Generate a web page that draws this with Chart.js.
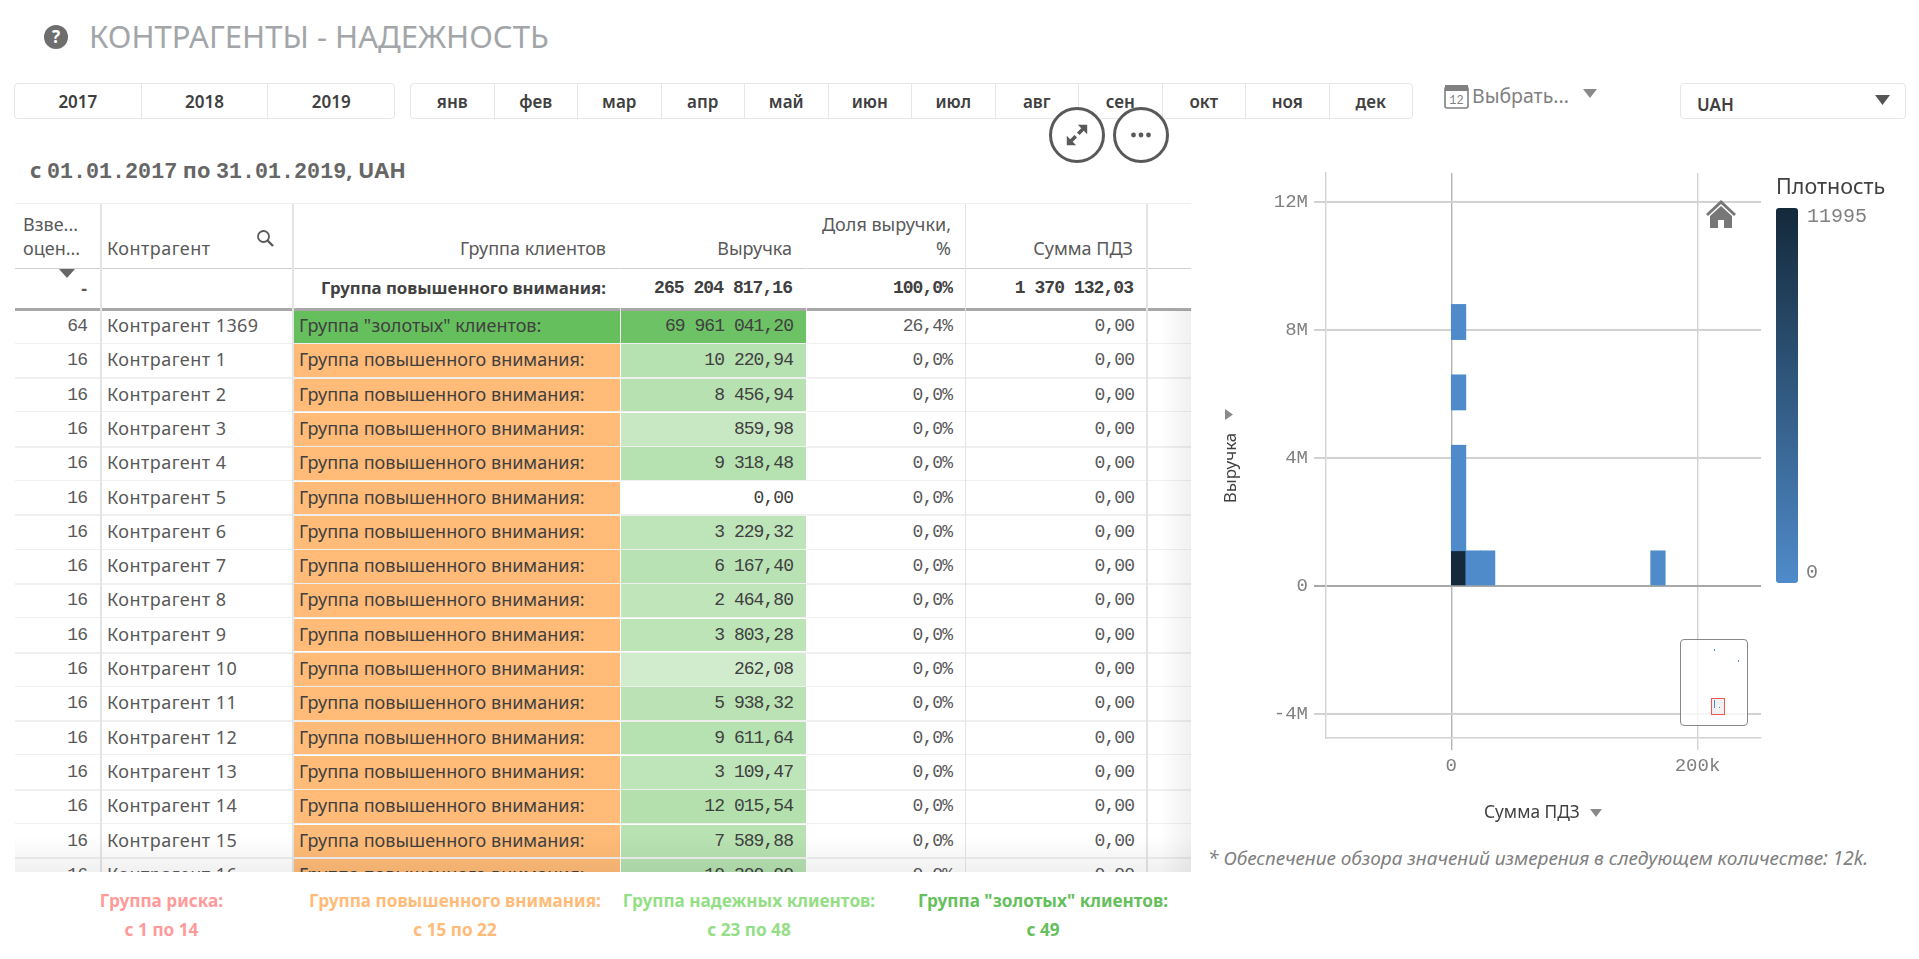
<!DOCTYPE html>
<html>
<head>
<meta charset="UTF-8">
<title>Контрагенты - надежность</title>
<script src="https://cdn.jsdelivr.net/npm/chart.js@4"></script>
<style>
	html,body {margin:0;padding:0;background:#fff;overflow:hidden;}
	body {width:1919px;height:959px;position:relative;font-family:'Noto Sans',sans-serif;color:#595959;}
	.abs {position:absolute;white-space:nowrap;}
	.mono {font-family:'Liberation Mono',monospace;}
	.num {font-family:'Liberation Mono',monospace;font-size:18px !important;letter-spacing:-.95px;}
	.btnGroup {position:absolute;top:83px;height:36px;border:1px solid #e6e6e6;border-radius:4px;box-sizing:border-box;display:flex;}
	.btnGroup div {flex:1;text-align:center;line-height:36px;font-size:17px;font-weight:600;color:#404040;border-left:1px solid #e6e6e6;}
	.btnGroup div:first-child {border-left:0;}
	.circle {position:absolute;top:107px;width:56px;height:56px;border:3px solid #595959;border-radius:50%;box-sizing:border-box;background:#fff;}
	#tableBox {position:absolute;left:15px;top:203px;width:1176px;height:669px;overflow:hidden;border-top:1px solid #f0f0f0;box-sizing:border-box;}
	.cell {position:absolute;white-space:nowrap;box-sizing:border-box;}
	.vline {position:absolute;width:1px;background:#e4e4e4;}
	.hline {position:absolute;left:0;width:1176px;background:#efefef;}
	.legendT {position:absolute;text-align:center;font-weight:700;font-size:17.2px;white-space:nowrap;transform:translateX(-50%);}
</style>
</head>
<body>
	<!-- заголовок -->
	<svg class="abs" style="left:44px;top:25px" width="24" height="24" viewBox="0 0 24 24"><circle cx="12" cy="12" r="12" fill="#6e6e6e"/><text x="12" y="18" text-anchor="middle" font-size="17" font-weight="700" font-family="Noto Sans" fill="#fff">?</text></svg>
	<div class="abs" id="title" style="left:89px;top:16px;font-size:31.1px;line-height:40px;color:#a3a6a9">КОНТРАГЕНТЫ - НАДЕЖНОСТЬ</div>

	<div class="btnGroup" id="years" style="left:14px;width:381px"></div>
	<div class="btnGroup" id="months" style="left:410px;width:1003px"></div>

	<svg class="abs" style="left:1444px;top:83px" width="26" height="26" viewBox="0 0 26 26"><rect x="1" y="4" width="23" height="21" rx="2" fill="none" stroke="#808080" stroke-width="1.6"/><rect x="1" y="2" width="23" height="6" fill="#808080"/><text x="12.5" y="21" text-anchor="middle" font-size="12" font-family="Liberation Mono" fill="#808080">12</text></svg>
	<div class="abs" style="left:1472px;top:83px;font-size:19.5px;line-height:26px;color:#808080">Выбрать...</div>
	<svg class="abs" style="left:1583px;top:89px" width="14" height="9"><path d="M0 0H14L7 9Z" fill="#8a8a8a"/></svg>

	<div class="abs" style="left:1680px;top:83px;width:226px;height:36px;border:1px solid #e6e6e6;border-radius:4px;box-sizing:border-box"></div>
	<div class="abs" style="left:1697px;top:92px;font-size:17px;line-height:26px;font-weight:600;color:#404040">UAH</div>
	<svg class="abs" style="left:1875px;top:95px" width="15" height="10"><path d="M0 0H15L7.5 10Z" fill="#555"/></svg>

	<div class="abs" style="left:30px;top:156px;font-size:21.7px;line-height:28px;font-weight:700;color:#666">с <span class="mono">01.01.2017</span> по <span class="mono">31.01.2019</span>, UAH</div>

	<div id="tableBox"></div>

	<!-- легенда групп -->
	<div id="groupLegend"></div>

	<!-- диаграмма -->
	<div class="abs" style="left:1190px;top:150px;width:729px;height:680px"><canvas id="densityChart" width="729" height="680"></canvas></div>

	<div class="circle" style="left:1049px">
		<svg width="50" height="50" viewBox="0 0 50 50"><path d="M37 13V24L33 20L28 25L25 22L30 17L26 13ZM13 37V26L17 30L22 25L25 28L20 33L24 37Z" fill="#595959" transform="translate(25 25) scale(.85) translate(-25 -25)"/></svg>
	</div>
	<div class="circle" style="left:1113px">
		<svg width="50" height="50" viewBox="0 0 50 50"><circle cx="17.5" cy="25" r="2.4" fill="#595959"/><circle cx="25" cy="25" r="2.4" fill="#595959"/><circle cx="32.5" cy="25" r="2.4" fill="#595959"/></svg>
	</div>

	<div class="abs" style="left:1221px;top:468px;font-size:17px;line-height:20px;color:#404040;transform:translate(-50%,-50%) rotate(-90deg);transform-origin:center;margin-left:9px">Выручка</div>
	<svg class="abs" style="left:1225px;top:409px" width="8" height="11"><path d="M0 0L8 5.5L0 11Z" fill="#8a8a8a"/></svg>
	<div class="abs" style="left:1484px;top:800px;font-size:17.3px;line-height:24px;color:#404040">Сумма ПДЗ</div>
	<svg class="abs" style="left:1590px;top:809px" width="12" height="8"><path d="M0 0H12L6 8Z" fill="#8a8a8a"/></svg>

	<svg class="abs" style="left:1706px;top:199px" width="30" height="30" viewBox="0 0 30 30"><path d="M15 1L0 15L2 17L15 5L28 17L30 15ZM4 17V29H12V21H18V29H26V17L15 7Z" fill="#777"/></svg>

	<!-- мини-карта -->
	<div class="abs" style="left:1680px;top:639px;width:68px;height:87px;box-sizing:border-box;border:1px solid #888;border-radius:4px;background:rgba(255,255,255,.8)">
		<div class="abs" style="left:30px;top:58px;width:14px;height:17px;box-sizing:border-box;border:1px solid #f05555;background:rgba(220,220,220,.4)"></div>
		<div class="abs" style="left:33px;top:9px;width:1px;height:2px;background:#4f8bca"></div>
		<div class="abs" style="left:57px;top:20px;width:1px;height:2px;background:#4f8bca"></div>
		<div class="abs" style="left:33px;top:60px;width:1px;height:8px;background:#4f8bca"></div>
		<div class="abs" style="left:38px;top:67px;width:1px;height:1px;background:#4f8bca"></div>
	</div>

	<!-- легенда плотности -->
	<div class="abs" style="left:1776px;top:172px;font-size:21.5px;line-height:28px;color:#404040">Плотность</div>
	<div class="abs" id="densityBar" style="left:1776px;top:208px;width:22px;height:375px;border-radius:3px"></div>
	<div class="abs mono" id="densityMax" style="left:1807px;top:206px;font-size:20px;line-height:22px;color:#808080"></div>
	<div class="abs mono" id="densityMin" style="left:1806px;top:562px;font-size:20px;line-height:22px;color:#808080"></div>

	<div class="abs" style="left:1208px;top:844px;font-size:19px;line-height:28px;font-style:italic;color:#808080">* Обеспечение обзора значений измерения в следующем количестве: 12k.</div>

<script>
	// фильтры
	const years = ['2017','2018','2019'];
	const months = ['янв','фев','мар','апр','май','июн','июл','авг','сен','окт','ноя','дек'];

	// таблица
	const rowScores = [64,16,16,16,16,16,16,16,16,16,16,16,16,16,16,16,16];
	const rowNames = ['Контрагент 1369','Контрагент 1','Контрагент 2','Контрагент 3','Контрагент 4','Контрагент 5','Контрагент 6','Контрагент 7','Контрагент 8','Контрагент 9','Контрагент 10','Контрагент 11','Контрагент 12','Контрагент 13','Контрагент 14','Контрагент 15','Контрагент 16'];
	const rowGroups = ['Группа "золотых" клиентов:','Группа повышенного внимания:','Группа повышенного внимания:','Группа повышенного внимания:','Группа повышенного внимания:','Группа повышенного внимания:','Группа повышенного внимания:','Группа повышенного внимания:','Группа повышенного внимания:','Группа повышенного внимания:','Группа повышенного внимания:','Группа повышенного внимания:','Группа повышенного внимания:','Группа повышенного внимания:','Группа повышенного внимания:','Группа повышенного внимания:','Группа повышенного внимания:'];
	const rowRevenue = ['69 961 041,20','10 220,94','8 456,94','859,98','9 318,48','0,00','3 229,32','6 167,40','2 464,80','3 803,28','262,08','5 938,32','9 611,64','3 109,47','12 015,54','7 589,88','10 300,00'];
	const rowShare = ['26,4%','0,0%','0,0%','0,0%','0,0%','0,0%','0,0%','0,0%','0,0%','0,0%','0,0%','0,0%','0,0%','0,0%','0,0%','0,0%','0,0%'];
	const rowDebt = ['0,00','0,00','0,00','0,00','0,00','0,00','0,00','0,00','0,00','0,00','0,00','0,00','0,00','0,00','0,00','0,00','0,00'];

	// группы
	const groupNames = ['Группа риска:','Группа повышенного внимания:','Группа надежных клиентов:','Группа "золотых" клиентов:'];
	const groupRanges = ['с 1 по 14','с 15 по 22','с 23 по 48','с 49'];

	// ячейки плотности: левый край и низ в единицах осей
	const binWidth = 11800;
	const binHeight = 1100000;
	const binLeft = [0,0,0,0,0,0,11800,23600,162000];
	const binBottom = [0,1100000,2200000,3300000,5500000,7700000,0,0,0];
	const binDensity = [11995,40,20,12,6,4,30,10,3];
	const densityMax = 11995;
	const densityMin = 0;

	const xTickValues = [0,200000];
	const xTickLabels = ['0','200k'];
	const yTickValues = [-4000000,0,4000000,8000000,12000000];
	const yTickLabels = ['-4M','0','4M','8M','12M'];

	years.forEach(function(y){ $add('years', y); });
	months.forEach(function(m){ $add('months', m); });
	function $add(id, text){
		let d = document.createElement('div');
		d.textContent = text;
		document.getElementById(id).appendChild(d);
	}

	// таблица строится абсолютно, колонки как в оригинале (от левого края блока)
	const box = document.getElementById('tableBox');
	const boxLeft = 15, boxTop = 203;
	function put(text, right, left, top, height, cls, css){
		let c = document.createElement('div');
		c.className = 'cell' + (cls ? ' ' + cls : '');
		c.textContent = text;
		c.style.cssText = 'top:'+(top-boxTop)+'px;height:'+height+'px;line-height:'+height+'px;font-size:18px;' + (css||'');
		if (right !== null) c.style.right = (1191-right)+'px';
		if (left !== null) c.style.left = (left-boxLeft)+'px';
		box.appendChild(c);
		return c;
	}
	// заголовок
	put('Взве...',null,23,211,24);
	put('оцен...',null,23,235,24);
	put('Контрагент',null,107,235,24,'','letter-spacing:.45px;');
	put('Группа клиентов',606,null,235,24);
	put('Выручка',792,null,235,24);
	put('Доля выручки,',951,null,211,24);
	put('%',951,null,235,24);
	put('Сумма ПДЗ',1133,null,235,24);
	// итоги
	put('-',87,null,268,38,'','font-weight:700;');
	put('Группа повышенного внимания:',606,null,268,38,'','font-size:16.8px;font-weight:700;color:#404040;');
	put('265 204 817,16',792,null,268,38,'num','font-weight:700;color:#404040;');
	put('100,0%',952,null,268,38,'num','font-weight:700;color:#404040;');
	put('1 370 132,03',1133,null,268,38,'num','font-weight:700;color:#404040;');

	// цвет ячейки выручки: чем больше значение, тем насыщеннее зелёный
	function revenueColor(text){
		let v = parseFloat(text.replace(/ /g,'').replace(',','.'));
		if (v === 0) return '#ffffff';
		if (v > 1000000) return '#6cc264';
		let t = (Math.log10(v) - 2.4) / (4.1 - 2.4);
		t = Math.max(0, Math.min(1, t));
		let r = Math.round(209 - t*29), g = Math.round(236 - t*12), b = Math.round(205 - t*31);
		return 'rgb('+r+','+g+','+b+')';
	}
	const rowTop = 309, rowStep = 34.3;
	rowNames.forEach(function(name, i){
		let top = rowTop + i*rowStep;
		let gold = rowGroups[i].indexOf('золотых') > 0;
		put('',null,293,top,rowStep-1.5,'','width:327px;background:'+(gold?'#66bf5d':'#ffbb77')+';');
		put('',null,621,top,rowStep-1.5,'','width:185px;background:'+revenueColor(rowRevenue[i])+';');
		put(rowScores[i],87,null,top,rowStep-2,'num');
		put(name,null,107,top,rowStep-4,'','letter-spacing:.45px;');
		put(rowGroups[i],null,299,top,rowStep-4,'','color:#404040;');
		put(rowRevenue[i],793,null,top,rowStep-2,'num','color:#404040;');
		put(rowShare[i],952,null,top,rowStep-2,'num');
		put(rowDebt[i],1134,null,top,rowStep-2,'num');
		let h = document.createElement('div');
		h.className = 'hline';
		h.style.cssText = 'top:'+(top+rowStep-1.5-boxTop)+'px;height:'+(i%2?2:1)+'px;';
		box.appendChild(h);
	});
	// линии
	[[267,1,'#cfcfcf'],[307,3,'#a8a8a8']].forEach(function(l){
		let h = document.createElement('div');
		h.className = 'hline';
		h.style.cssText = 'top:'+(l[0]-boxTop)+'px;height:'+l[1]+'px;background:'+l[2]+';';
		box.appendChild(h);
	});
	[[100,2],[292,2],[620,1],[806,1],[965,1],[1146,2]].forEach(function(l){
		let v = document.createElement('div');
		v.className = 'vline';
		v.style.cssText = 'left:'+(l[0]-boxLeft)+'px;top:0;height:669px;width:'+l[1]+'px;' + (l[0]==620||l[0]==806 ? 'background:rgba(255,255,255,.7);' : '');
		box.appendChild(v);
	});
	// затухание снизу и справа
	let fadeB = document.createElement('div');
	fadeB.style.cssText = 'position:absolute;left:0;width:1176px;top:632px;height:37px;background:linear-gradient(rgba(0,0,0,0),rgba(0,0,0,.06));';
	box.appendChild(fadeB);
	let fadeR = document.createElement('div');
	fadeR.style.cssText = 'position:absolute;left:1145px;width:31px;top:106px;height:563px;background:linear-gradient(90deg,rgba(0,0,0,0),rgba(0,0,0,.06));';
	box.appendChild(fadeR);

	// поиск и сортировка
	box.insertAdjacentHTML('beforeend','<svg style="position:absolute;left:241px;top:25px" width="19" height="19" viewBox="0 0 19 19"><circle cx="7.5" cy="7.5" r="5.5" fill="none" stroke="#595959" stroke-width="1.8"/><path d="M11.5 11.5L17 17" stroke="#595959" stroke-width="2.4"/></svg>');
	box.insertAdjacentHTML('beforeend','<svg style="position:absolute;left:44px;top:65px" width="16" height="9"><path d="M0 0H16L8 9Z" fill="#666"/></svg>');

	// легенда групп внизу
	const groupCenters = [161.5,455,749,1043];
	const groupColors = ['#ff9a9a','#ffbb77','#94de86','#66bf5d'];
	groupNames.forEach(function(n,i){
		let gl = document.getElementById('groupLegend');
		gl.insertAdjacentHTML('beforeend','<div class="legendT" style="left:'+groupCenters[i]+'px;top:889px;line-height:24px;color:'+groupColors[i]+'">'+n.replace(/"/g,'&quot;')+'</div>');
		gl.insertAdjacentHTML('beforeend','<div class="legendT" style="left:'+groupCenters[i]+'px;top:918px;line-height:24px;color:'+groupColors[i]+'">'+groupRanges[i]+'</div>');
	});

	// плотность -> цвет
	const lowColor = [79,139,202], highColor = [20,41,58];
	function densityColor(v){
		let t = (v - densityMin) / (densityMax - densityMin);
		let c = lowColor.map(function(a,i){ return Math.round(a + (highColor[i]-a)*t); });
		return 'rgb('+c.join(',')+')';
	}
	document.getElementById('densityBar').style.background = 'linear-gradient('+densityColor(densityMax)+','+densityColor(densityMin)+')';
	document.getElementById('densityMax').textContent = densityMax;
	document.getElementById('densityMin').textContent = densityMin;

	let xLabelOf = function(v){ return xTickLabels[xTickValues.indexOf(v)]; };
	let yLabelOf = function(v){ return yTickLabels[yTickValues.indexOf(v)]; };
	let binData = binLeft.map(function(x,i){
		return {x:x+binWidth/2, y:[binBottom[i], binBottom[i]+binHeight]};
	});

	var chart = new Chart(document.getElementById('densityChart'), {
		type:'bar',
		data:{
			datasets:[{
				data:binData,
				backgroundColor:binDensity.map(densityColor),
				borderWidth:0,
				barThickness:14.6,
				grouped:false
			}]
		},
		options:{
			responsive:false,
			animation:false,
			layout:{padding:{top:23,right:158,left:0,bottom:0}},
			plugins:{legend:{display:false},tooltip:{enabled:false}},
			scales:{
				x:{
					type:'linear',
					offset:false,
					min:-101800,
					max:251600,
					afterBuildTicks:function(s){ s.ticks = xTickValues.map(function(v){ return {value:v}; }); },
					afterFit:function(s){ s.height = 680-(738-150); },
					grid:{offset:false,color:function(c){ return c.tick.value===0 ? '#b4b4b4' : '#d2d2d2'; },lineWidth:1.4,tickLength:12},
					border:{color:'#d2d2d2',width:1.4},
					ticks:{padding:5,autoSkip:false,maxRotation:0,color:'#808080',font:{family:'Liberation Mono',size:19},callback:function(v){ return xLabelOf(v); }}
				},
				y:{
					min:-4750000,
					max:12906000,
					afterBuildTicks:function(s){ s.ticks = yTickValues.map(function(v){ return {value:v}; }); },
					afterFit:function(s){ s.width = 1326-1190; },
					grid:{color:function(c){ return c.tick.value===0 ? '#a8a8a8' : '#d2d2d2'; },lineWidth:2,tickLength:12},
					border:{color:'#d2d2d2',width:1.4},
					ticks:{padding:6,autoSkip:false,color:'#808080',font:{family:'Liberation Mono',size:19},callback:function(v){ return yLabelOf(v); }}
				}
			}
		}
	});
</script>
</body>
</html>
